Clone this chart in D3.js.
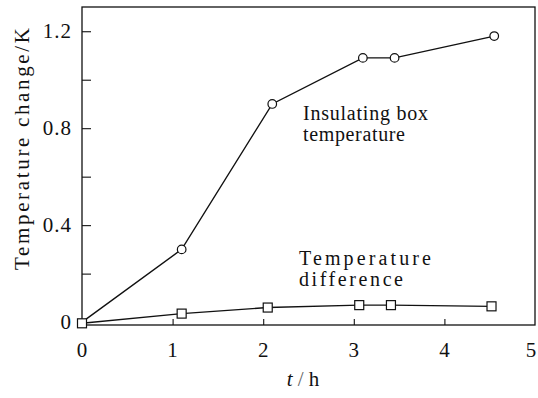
<!DOCTYPE html>
<html>
<head>
<meta charset="utf-8">
<script src="https://cdn.jsdelivr.net/npm/d3@7"></script>
<style>
  body { margin: 0; background: #fff; }
  text { font-family: "Liberation Serif", "DejaVu Serif", serif; fill: #111; }
</style>
</head>
<body>
<div id="chart"></div>
<script>
"use strict";

// time (h) for each series
var boxTimes = [0, 1.1, 2.1, 3.1, 3.45, 4.55];
var boxTemps = [0, 0.30, 0.90, 1.09, 1.09, 1.18];
var diffTimes = [0, 1.1, 2.05, 3.06, 3.41, 4.52];
var diffTemps = [-0.005, 0.035, 0.06, 0.07, 0.07, 0.065];

var xTicks = [0, 1, 2, 3, 4, 5];
var yTicks = [0, 0.2, 0.4, 0.6, 0.8, 1.0, 1.2];
var yLabels = [0, 0.4, 0.8, 1.2];

var width = 538, height = 398;
var margin = {left: 82, right: 3, top: 7, bottom: 73};

var svg = d3.select('#chart').append('svg')
    .attr('width', width)
    .attr('height', height);

var x = d3.scaleLinear().domain([0, 5]).range([margin.left, width - margin.right]);
var y = d3.scaleLinear().domain([-0.012, 1.3]).range([height - margin.bottom, margin.top]);

// frame
svg.append('rect')
    .attr('x', x(0))
    .attr('y', y(1.3))
    .attr('width', x(5) - x(0))
    .attr('height', y(-0.012) - y(1.3))
    .attr('fill', 'none')
    .attr('stroke', '#111')
    .attr('stroke-width', 1.3);

// inward ticks
svg.append('g')
    .attr('transform', 'translate(0,' + y(-0.012) + ')')
    .call(d3.axisBottom(x).tickValues(xTicks.slice(1, 5)).tickSizeInner(-6).tickSizeOuter(0).tickFormat(''))
    .call(function (g) { g.select('.domain').remove(); });

svg.append('g')
    .attr('transform', 'translate(' + x(0) + ',0)')
    .call(d3.axisLeft(y).tickValues(yTicks.slice(1)).tickSizeInner(-9).tickSizeOuter(0).tickFormat(''))
    .call(function (g) { g.select('.domain').remove(); });

svg.selectAll('.tick line').attr('stroke', '#111').attr('stroke-width', 1.1);

// tick labels (last one nudged in so it stays on the page)
svg.selectAll('.xlab').data(xTicks).enter().append('text')
    .attr('x', function (d) { return Math.min(x(d), width - 7); })
    .attr('y', 357)
    .attr('text-anchor', 'middle')
    .style('font-size', '21px')
    .text(function (d) { return d; });

svg.selectAll('.ylab').data(yLabels).enter().append('text')
    .attr('x', x(0) - 10)
    .attr('y', function (d) { return y(d) + 7; })
    .attr('text-anchor', 'end')
    .style('font-size', '21px')
    .style('letter-spacing', '1px')
    .text(function (d) { return d === 0 ? '0' : d3.format('.1f')(d); });

// axis titles
svg.append('text')
    .attr('transform', 'translate(29,' + 270 + ') rotate(-90)')
    .attr('textLength', 242)
    .attr('lengthAdjust', 'spacing')
    .style('font-size', '21px')
    .text('Temperature change/K');

var xt = svg.append('text')
    .attr('x', 303)
    .attr('y', 386)
    .attr('text-anchor', 'middle')
    .style('font-size', '21px');
xt.append('tspan').style('font-style', 'italic').text('t');
xt.append('tspan').style('fill', '#666').text(' / ');
xt.append('tspan').text('h');

// lines
var line = d3.line()
    .x(function (d) { return x(d[0]); })
    .y(function (d) { return y(d[1]); });

var boxData = d3.zip(boxTimes, boxTemps);
var diffData = d3.zip(diffTimes, diffTemps);

svg.append('path').datum(boxData)
    .attr('d', line).attr('fill', 'none').attr('stroke', '#111').attr('stroke-width', 1.4);
svg.append('path').datum(diffData)
    .attr('d', line).attr('fill', 'none').attr('stroke', '#111').attr('stroke-width', 1.4);

// markers
svg.selectAll('.circ').data(boxData.slice(1)).enter().append('circle')
    .attr('cx', function (d) { return x(d[0]); })
    .attr('cy', function (d) { return y(d[1]); })
    .attr('r', 4.3)
    .attr('fill', '#fff')
    .attr('stroke', '#111')
    .attr('stroke-width', 1.2);

svg.selectAll('.sq').data(diffData).enter().append('rect')
    .attr('x', function (d) { return x(d[0]) - 4.5; })
    .attr('y', function (d) { return y(d[1]) - 4.5; })
    .attr('width', 9)
    .attr('height', 9)
    .attr('fill', '#fff')
    .attr('stroke', '#111')
    .attr('stroke-width', 1.2);

// annotations
function note(lines, lens, px, py) {
    var t = svg.append('text')
        .attr('x', px)
        .attr('y', py)
        .style('font-size', '20px');
    lines.forEach(function (s, i) {
        t.append('tspan').attr('x', px).attr('dy', i === 0 ? 0 : 21)
            .attr('textLength', lens[i]).attr('lengthAdjust', 'spacing').text(s);
    });
}
note(['Insulating box', 'temperature'], [125, 102], 303, 120);
note(['Temperature', 'difference'], [132, 104], 299, 265);
</script>
</body>
</html>
